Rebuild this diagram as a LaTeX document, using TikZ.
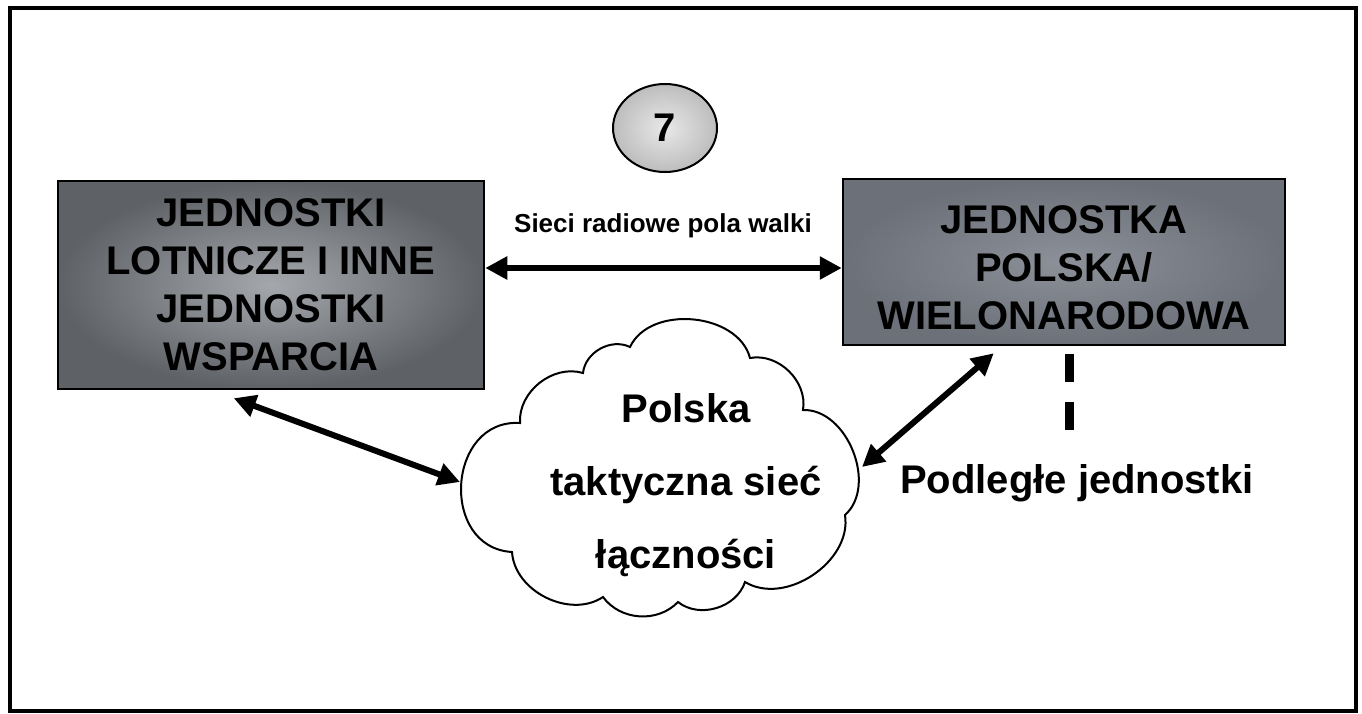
\documentclass[tikz,border=0pt]{standalone}
\usepackage{fontspec}
\setmainfont{Liberation Sans}
\usetikzlibrary{arrows.meta,shapes.geometric,calc}
\definecolor{boxedgeA}{HTML}{5E6267}
\definecolor{boxmidA}{HTML}{A4A8AC}
\definecolor{boxedgeB}{HTML}{6C7078}
\definecolor{boxmidB}{HTML}{8C9098}
\definecolor{badgeout}{HTML}{BDBDBD}
\definecolor{badgein}{HTML}{E8E8E8}
\begin{document}
\begin{tikzpicture}[x=1pt,y=-1pt,
  unitbox/.style={draw=black, line width=2.5pt, inner sep=0pt, align=center,
    font=\fontsize{40}{48}\selectfont\bfseries},
  badge/.style={ellipse, draw=black, line width=2pt, inner sep=0pt,
    shading=radial, inner color=badgein, outer color=badgeout,
    font=\fontsize{40}{40}\selectfont\bfseries},
  bigtext/.style={font=\fontsize{40}{73}\selectfont\bfseries, align=center, inner sep=0pt},
  smalltext/.style={font=\fontsize{26}{30}\selectfont\bfseries, inner sep=0pt},
  link/.style={line width=6pt,
    {Triangle[length=22pt,width=22pt]}-{Triangle[length=22pt,width=22pt]}},
  cloudline/.style={line width=2pt, fill=white},
  subdash/.style={line width=9pt, dash pattern=on 28pt off 20pt}]
\useasboundingbox (0,0) rectangle (1362,713);

% outer frame
\draw[line width=4pt] (10,8) rectangle (1356,711);

% unit boxes
\node[unitbox, minimum width=426pt, minimum height=208pt,
  shading=radial, inner color=boxmidA, outer color=boxedgeA] (L) at (271,285)
  {JEDNOSTKI\\LOTNICZE I INNE\\JEDNOSTKI\\WSPARCIA};
\node[unitbox, minimum width=442pt, minimum height=166pt,
  shading=radial, inner color=boxmidB, outer color=boxedgeB] (R) at (1064,262)
  {\rule{0pt}{39pt}JEDNOSTKA\\POLSKA/\\WIELONARODOWA};

% numbered badge
\node[badge, minimum width=104pt, minimum height=88pt] (N) at (665,128) {7};

% radio net label
\node[smalltext, anchor=base] (S) at (663,232) {Sieci radiowe pola walki};

% tactical network cloud
\coordinate (p1) at (520,423);
\coordinate (p2) at (583,373);
\coordinate (p3) at (630,347);
\coordinate (p4) at (750,358);
\coordinate (p5) at (803,410);
\coordinate (p6) at (845,515);
\coordinate (p7) at (745,582);
\coordinate (p8) at (678,602);
\coordinate (p9) at (603,597);
\coordinate (p10) at (512,552);
\draw[cloudline] (p1) to[bend left=55] (p2) to[bend left=55] (p3)
  to[bend left=70] (p4) to[bend left=55] (p5) to[bend left=70] (p6)
  to[bend left=65] (p7) to[bend left=55] (p8) to[bend left=50] (p9)
  to[bend left=60] (p10) to[bend left=90, looseness=1.45] (p1) -- cycle;
\coordinate (cl) at (460,482);
\coordinate (cr) at (862,467);

\node[bigtext] (T) at (686,485) {Polska\\taktyczna sieć\\łączności};

% subordinate units
\node[bigtext, anchor=base west] (P) at (900,493) {Podległe jednostki};

% connectors
\coordinate (hr) at ([yshift=-6pt]R.west);
\draw[link] (hr -| L.east) -- (hr);
\draw[link] ([xshift=177pt,yshift=-8pt]L.south west) -- (cl);
\draw[link] (cr) -- ([xshift=152pt,yshift=-7pt]R.south west);
\draw[subdash] ([xshift=5pt,yshift=-8pt]R.south) -- ++(0,76);
\end{tikzpicture}
\end{document}
